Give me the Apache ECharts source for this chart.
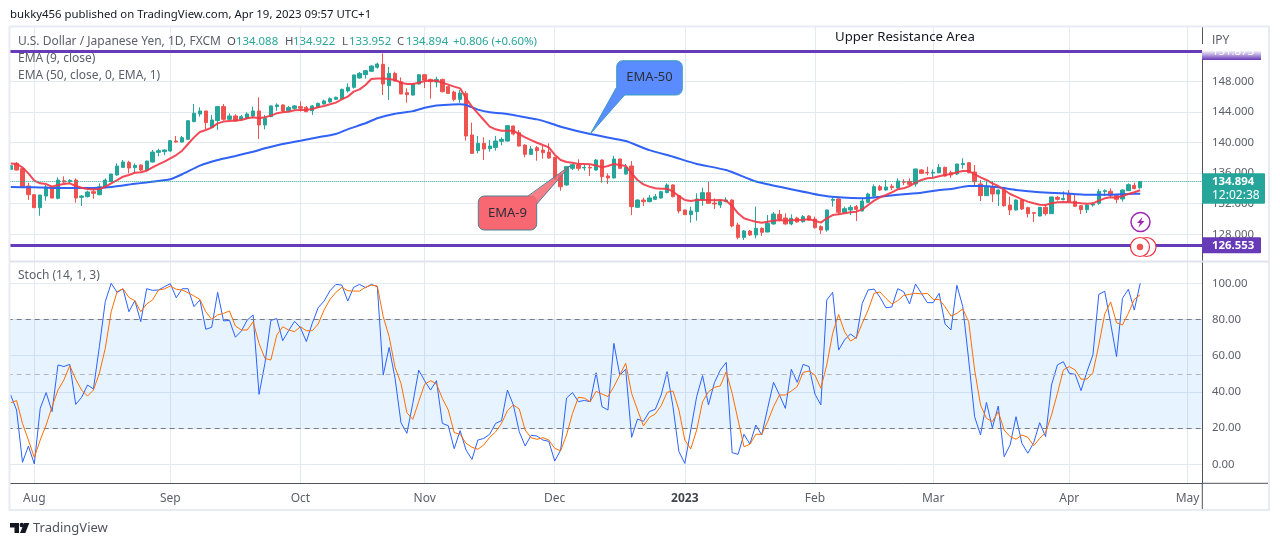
<!DOCTYPE html>
<html><head><meta charset="utf-8">
<style>html,body{margin:0;padding:0;background:#fff}#c{width:1280px;height:546px}</style>
<script src="https://cdn.jsdelivr.net/npm/echarts@6/dist/echarts.min.js"></script>
</head><body><div id="c"></div>
<script>
const FONT='"Noto Sans",sans-serif';
const monthTicks={4:'Aug',27:'Sep',49:'Oct',70:'Nov',92:'Dec',114:'2023',136:'Feb',156:'Mar',179:'Apr',199:'May'};
const priceTicks=[128,132,136,140,144,148];
const resistance=151.873, support=126.553, lastPrice=134.894;
const opens=[136.49,137.27,136.58,134.31,133.18,131.48,133.0,134.14,132.70,135.0,
134.88,135.09,132.83,132.92,133.57,133.18,134.14,134.88,135.75,136.75,
137.40,136.71,137.06,136.40,137.45,138.71,138.80,138.89,140.19,140.06,
140.42,142.73,143.73,144.12,141.99,142.86,144.69,143.03,143.47,143.03,
143.16,143.47,144.12,142.29,143.38,144.69,144.91,144.16,144.47,144.69,
144.60,144.16,144.60,145.04,145.30,145.65,145.73,146.74,147.21,148.43,
148.87,149.31,149.83,150.22,147.43,149.04,147.95,146.51,146.2,147.64,
148.86,148.25,147.9,148.25,147.3,146.6,145.64,146.42,140.98,138.93,
139.89,139.19,139.36,140.15,140.19,142.15,141.28,139.67,138.45,139.32,
139.02,138.75,138.06,135.8,134.45,136.62,137.06,136.67,136.75,136.4,
137.71,135.62,135.36,137.84,135.88,136.93,131.53,132.48,132.27,132.57,
132.75,133.44,134.45,133.05,131.18,130.57,130.96,132.62,133.44,132.09,
131.83,132.27,132.48,129.22,127.6,128.43,127.91,128.78,128.3,129.35,
130.61,130.13,129.35,130.13,129.65,130.39,130.0,129.0,128.56,132.44,
132.62,130.87,131.18,131.61,131.05,132.18,133.0,134.23,133.79,134.27,
134.05,134.88,134.92,134.58,136.41,136.1,136.01,136.06,136.75,136.06,
135.88,137.1,137.36,136.14,134.58,133.05,134.23,133.27,133.79,131.83,
131.18,132.48,131.48,130.83,130.39,131.53,130.7,132.83,132.53,133.36,
132.31,131.74,131.22,131.83,132.05,133.57,133.62,133.09,132.62,133.7,
134.4,134.088];
const closes=[136.97,136.40,134.22,133.18,131.48,133.13,134.18,132.74,135.09,134.83,
135.05,132.74,133.0,133.53,133.35,134.22,135.09,135.88,136.92,137.45,
136.66,137.01,136.40,137.58,138.75,138.93,139.02,140.24,140.06,140.63,
142.85,143.82,144.12,142.60,142.94,144.69,143.03,143.47,142.81,143.38,
143.73,144.12,142.29,143.16,144.78,144.91,144.12,144.56,144.78,144.47,
144.03,144.78,145.12,145.43,145.73,145.91,146.95,147.21,148.83,149.04,
149.39,150.0,150.26,147.65,149.04,148.04,146.34,146.25,147.6,148.86,
148.17,147.95,148.25,146.64,146.42,145.64,146.47,140.85,138.58,139.89,
139.15,139.54,140.19,140.41,142.2,141.11,139.54,138.45,139.15,138.93,
138.67,137.97,135.2,134.22,136.84,137.1,136.62,136.75,136.67,137.71,
135.53,135.36,137.84,136.62,136.75,131.61,132.48,132.27,132.75,132.92,
133.57,134.45,132.92,131.05,130.57,131.05,132.62,133.44,132.05,131.96,
132.27,132.48,129.09,127.6,128.43,127.91,128.78,128.26,129.43,130.65,
129.96,129.35,130.09,129.61,130.31,129.87,128.87,128.56,131.18,132.57,
130.87,131.35,131.53,131.26,132.35,133.27,134.23,133.79,134.18,134.1,
134.97,134.8,134.53,136.54,135.97,136.01,136.1,136.75,135.62,135.75,
137.19,137.28,136.06,134.88,133.05,134.23,133.27,133.79,131.74,131.18,
132.48,131.31,130.7,130.74,131.53,130.7,132.88,132.57,132.7,132.27,
131.66,131.22,131.83,131.96,133.62,133.7,133.09,132.57,133.79,134.49,
133.97,134.894];
const highs=[137.06,137.45,136.66,134.75,133.2,133.15,134.44,134.31,135.44,135.57,
135.22,135.31,133.13,133.70,133.87,134.66,135.31,135.9,137.27,137.71,
137.62,137.27,137.14,137.6,139.02,139.19,139.10,140.32,140.85,140.85,
142.9,145.04,144.60,144.15,143.6,144.78,145.04,143.82,143.69,143.6,
143.95,144.69,145.91,143.6,144.86,145.12,144.99,144.78,144.91,145.38,
144.78,144.91,145.21,145.6,145.91,146.0,147.04,147.74,148.87,149.22,
149.48,150.09,150.44,151.66,149.87,149.26,148.51,147.08,147.73,148.95,
148.95,148.34,148.6,148.34,147.47,146.77,146.86,146.73,142.59,140.85,
140.67,140.32,140.85,140.67,142.28,142.24,141.63,139.76,139.54,139.54,
139.54,139.89,138.1,136.0,136.93,137.19,137.8,137.06,137.06,137.84,
137.8,135.97,138.24,137.89,137.19,137.58,132.57,132.79,133.14,133.27,
133.7,134.66,134.53,133.14,131.2,131.61,133.36,134.1,134.88,132.7,
132.48,132.83,132.57,129.52,128.56,128.56,131.61,128.91,130.52,130.92,
131.18,130.74,130.61,130.31,130.52,130.52,130.31,129.17,131.22,132.83,
132.7,131.61,131.83,131.83,132.83,133.44,134.53,134.45,135.1,134.58,
135.32,135.19,135.32,136.58,136.54,136.84,136.49,137.19,136.84,136.32,
137.23,137.93,137.45,137.06,135.1,134.88,134.97,133.88,133.88,132.92,
132.57,132.7,131.61,130.92,131.57,131.83,132.92,133.0,133.62,133.79,
133.14,131.83,131.92,132.14,133.92,133.88,134.01,133.27,133.88,134.66,
134.75,134.922];
const lows=[136.40,136.35,134.14,132.48,131.45,130.43,132.39,132.70,132.57,134.66,
134.66,132.13,131.70,132.83,132.65,133.09,134.0,134.85,135.66,136.71,
135.97,136.05,136.27,136.31,137.40,138.19,138.36,138.80,139.97,139.97,
140.4,142.64,143.38,141.72,141.9,141.64,142.86,142.86,142.73,142.86,
143.03,143.16,140.46,141.72,143.3,144.16,143.99,144.03,144.16,144.03,
143.95,143.6,144.51,144.95,145.21,145.6,145.65,146.52,147.04,148.35,
148.35,149.22,149.65,146.2,145.56,147.95,146.3,145.2,146.12,147.6,
147.12,145.73,147.2,146.55,146.34,145.38,145.2,140.24,138.5,138.58,
137.71,138.8,138.93,139.63,140.15,140.93,139.45,138.06,138.36,137.62,
137.88,137.88,135.1,133.7,134.36,136.4,136.32,136.32,135.62,136.32,
134.75,134.58,135.32,136.54,135.8,130.52,131.44,131.7,132.18,132.48,
132.66,133.36,132.83,130.74,130.52,129.52,129.78,131.74,131.96,131.31,
131.44,132.18,128.91,127.34,127.26,127.78,127.47,127.78,128.26,129.26,
129.7,129.26,129.17,129.52,129.52,129.78,128.74,128.04,128.34,131.61,
130.52,130.74,130.52,129.74,131.0,132.09,132.7,133.66,133.7,133.79,
133.97,134.45,134.45,134.23,135.88,135.71,135.32,135.97,135.53,135.36,
135.75,136.58,135.97,134.23,132.35,133.0,132.22,131.7,131.61,130.52,
131.09,131.18,130.22,129.61,130.35,130.44,130.65,132.4,132.44,132.14,
131.57,130.65,130.79,131.61,131.87,133.0,132.83,132.09,132.27,133.66,
133.88,133.952];
const ema9=[137.27,137.19,136.75,135.97,135.01,134.66,134.57,134.22,134.44,134.57,134.66,134.31,134.09,133.92,133.87,133.92,134.22,134.66,135.09,135.53,135.75,136.05,136.1,136.31,136.75,137.14,137.49,137.93,138.36,138.93,139.8,140.67,141.37,
141.64,141.94,142.5,142.73,142.81,142.86,142.94,143.16,143.29,143.16,143.29,143.51,143.81,143.95,144.03,144.21,144.25,144.25,144.38,144.6,144.77,144.99,145.21,145.65,145.99,146.65,
146.95,147.51,148.3,148.38,148.38,148.3,148.17,147.82,147.64,147.64,147.82,148.04,148.08,148.08,147.82,147.56,147.3,147.08,145.77,144.68,143.81,142.94,142.07,141.72,141.54,141.54,141.54,141.11,140.67,140.32,139.97,139.67,139.36,138.4,137.71,
137.45,137.36,137.19,137.19,137.15,137.0,136.75,136.93,137.19,137.06,136.93,135.97,135.1,134.53,134.23,134.01,133.97,133.97,133.57,133.0,132.48,132.35,132.48,132.48,132.48,132.44,132.48,132.4,131.7,130.74,130.1,129.85,
129.65,129.52,129.65,129.78,129.87,129.78,129.83,129.87,129.91,129.96,129.78,129.52,130.09,130.52,130.61,130.74,130.87,130.96,131.26,131.83,132.4,132.83,133.14,133.49,133.88,134.01,134.31,134.75,135.1,135.32,
135.4,135.6,135.75,135.88,136.1,136.27,136.27,135.88,135.45,135.1,134.66,134.31,133.79,133.27,132.92,132.57,132.27,132.05,131.87,131.83,132.05,132.18,132.22,132.18,132.14,132.05,132.0,132.05,132.4,132.7,132.83,132.79,133.0,133.27,133.49,133.75];
const ema50Idx=[0,4,8,14,17,21,23,27,29,32,35,38,41,43,46,49,52,55,57,60,62,65,68,70,72,74,76,77,79,81,83,85,87,89,91,93,98,104,108,112,116,121,126,131,137,140,144,147,150,154,157,159,162,164,167,170,174,178,182,185,189,191];
const ema50Val=[134.18,134.14,134.05,134.05,134.18,134.6,134.78,135.2,135.85,136.98,137.72,138.24,138.8,139.24,139.81,140.24,140.68,141.11,141.72,142.51,143.16,143.75,144.1,144.55,144.85,144.94,144.99,144.9,144.3,143.94,143.81,143.59,143.29,143.02,142.59,142.07,141.11,140.19,139.0,138.14,137.2,136.4,134.9,134.05,133.1,132.83,132.7,132.92,133.18,133.44,133.79,133.92,134.31,134.31,134.14,133.79,133.49,133.36,133.18,133.18,133.27,133.31];
const stochK=[38.3,30,1.1,10.1,0.2,30.9,39.6,29.1,54.9,54,
55.2,33.1,37,43.8,41.6,65,89.9,100,95,96.9,
84.3,90.4,78.8,97,96.1,96.3,98.1,99.8,92,97,
97,87.1,90.8,74.6,75.7,95,79.2,79.5,70.2,73.6,
79.7,82.5,38.6,55.8,79.5,80.5,68.3,73.8,79,75.5,
67.8,77.9,86.5,90.2,95.9,99.4,99,90.2,97.8,99.4,
97.6,99.4,98.1,49.3,64.6,47.5,23,17.1,33.7,52,
46.2,41,46.2,22.6,21.3,8.6,18.6,7.9,2.7,13.4,
14.3,16.6,22.6,24.1,41,32.8,18,10.1,16,15.6,
13.4,12.7,1.8,7.9,36.6,39.6,34.6,35.3,34.6,50.6,
31.8,30,66.8,49.3,52.5,14.9,25,23.7,29.1,30.4,
38.3,51.2,31.8,7,0.5,19,37.4,49,32.8,45.1,
52.1,56.3,6.4,5.5,16.6,11.2,21.7,16.2,30.9,45.3,
38.3,30.9,52.5,45.3,55.2,54,38.8,32.8,90.8,95,
63.1,68.7,72,69.6,88.9,96.3,96.8,92.3,86.5,86.9,
97,95.4,88.6,99.6,94.5,89.3,89.3,94.5,77.5,74.2,
98.9,87.1,57.6,26.3,16.2,34.2,20.2,32.2,4.2,10.7,
26.3,11.6,6.1,12,23,15.3,43.8,54.9,56.7,50.3,
49.7,40.7,51.2,60.4,93.9,95.6,77.9,59.5,91.7,96.7,
85.2,100];
const stochD=[34,35.2,22.6,13.4,3.8,13.4,21.7,31.8,41,46.6,
54.5,47,41,37.7,41,50.3,64.1,84.3,95.4,97,
92.2,90.4,84.3,88.6,90.8,96.3,96.9,98.5,96.7,96.3,
94.8,93,91.1,84.3,80.1,82.5,83.4,84.7,76.4,74.2,
74.2,78.8,66.8,58.5,57.6,71.4,76,74.2,73.3,76,
73.8,73.8,77.5,85.3,91.1,95,97.8,95.9,95.7,95.7,
97.8,99,98.5,81.6,70.5,53.6,44.7,28.5,24.8,34.6,
44.2,46.2,44.4,36.4,30,17.5,16.6,11.6,9.4,8.3,
10.7,14.9,17.9,22.6,29.6,32.8,30.6,18.9,14.7,13.8,
14.7,13.4,8.8,7.5,16.2,28.1,37,36.6,34.6,40.3,
38.8,37.4,42.9,49.3,55.8,39.2,30,21.2,25.9,27.8,
32.4,39.8,40.5,30,13.4,8.5,18.9,34.6,40.1,42.5,
43.3,51.2,39.2,24.5,9.7,11,16.6,16.6,23.6,31.8,
38.3,38.3,40.5,42.9,50.8,51.5,49.3,42,54.9,72.4,
82.8,73.3,68.1,70,77.9,85.3,94.5,95.2,91.7,88.6,
90.4,93.3,93.9,94.5,94.1,94.5,91.1,91.1,87.1,81.9,
83.4,85.8,78.8,52.1,32.8,25.4,23.6,29.1,18.9,15.3,
13.8,16.2,14.9,10.3,14.3,17.5,27.2,39.2,52.1,54,
52.1,47,47.1,50.6,65.9,83,89.7,78.2,77,83.4,
91.1,93.7];

const SLOTS=202;
const xCats=Array.from({length:SLOTS},(_,i)=>String(i));
const isMonth=i=>monthTicks[i]!==undefined;
const candleData=opens.map((o,i)=>[o,closes[i],lows[i],highs[i]]);
const ema50Data=xCats.map(()=>null);
ema50Idx.forEach((ix,k)=>{ema50Data[ix]=ema50Val[k];});

const GREY='#5d606b',DARK='#131722',GRN='#26a69a',RED='#ef5350',PUR='#673ab7',GRID='#e3e9f1';
const L=7.7,W=1194.6,NUM='11.4px '+FONT;
const hiddenX=g=>({type:'category',gridIndex:g,data:xCats,boundaryGap:true,show:false});

const chart=echarts.init(document.getElementById('c'),null,{renderer:'canvas'});
chart.setOption({
 animation:false,
 textStyle:{fontFamily:FONT},
 grid:[
  {left:L,width:W,top:20.1,height:244.8},
  {left:L,width:W,top:247.1,height:253.4},
  {left:L,width:W,top:27,height:456.3}
 ],
 xAxis:[hiddenX(0),hiddenX(1),{
  type:'category',gridIndex:2,data:xCats,boundaryGap:true,
  axisLine:{show:true,lineStyle:{color:'#50535e',width:1}},
  axisTick:{show:false},
  axisLabel:{interval:i=>isMonth(i),margin:9,color:GREY,fontSize:12,fontFamily:FONT,
    formatter:(v,i)=>monthTicks[+v]==='2023'?'{b|2023}':(monthTicks[+v]||''),
    rich:{b:{fontWeight:'bold',color:'#42454f',fontSize:12,fontFamily:FONT}}},
  splitLine:{show:true,interval:i=>isMonth(i),alignWithLabel:true,lineStyle:{color:GRID,width:1}}
 }],
 yAxis:[
  {type:'value',gridIndex:0,position:'right',min:124,max:156,interval:4,scale:true,
   axisLine:{show:false},axisTick:{show:false},
   axisLabel:{showMinLabel:false,showMaxLabel:false,margin:9.6,color:GREY,fontSize:11.4,fontFamily:FONT,
     formatter:v=>priceTicks.includes(v)?v.toFixed(3):''},
   splitLine:{show:true,showMinLine:false,showMaxLine:false,lineStyle:{color:GRID,width:1}}},
  {type:'value',gridIndex:1,position:'right',min:-20,max:120,interval:20,
   axisLine:{show:false},axisTick:{show:false},
   axisLabel:{showMinLabel:false,showMaxLabel:false,margin:9.6,color:GREY,fontSize:11.4,fontFamily:FONT,
     formatter:v=>v.toFixed(2)},
   splitLine:{show:true,showMinLine:false,showMaxLine:false,lineStyle:{color:GRID,width:1}}},
  {type:'value',gridIndex:2,position:'right',min:0,max:1,
   axisLine:{show:true,lineStyle:{color:'#50535e',width:1}},axisTick:{show:false},axisLabel:{show:false},splitLine:{show:false}}
 ],
 series:[
  {type:'line',xAxisIndex:2,yAxisIndex:2,data:[],silent:true},
  {name:'USDJPY',type:'candlestick',xAxisIndex:0,yAxisIndex:0,data:candleData,barWidth:3.8,clip:false,
   itemStyle:{color:GRN,color0:RED,borderColor:GRN,borderColor0:RED,borderWidth:1},
   markLine:{silent:true,symbol:'none',animation:false,label:{show:false},data:[
     {yAxis:lastPrice,lineStyle:{color:GRN,type:'dotted',width:1}},
     {yAxis:resistance,lineStyle:{color:PUR,type:'solid',width:3}},
     {yAxis:support,lineStyle:{color:PUR,type:'solid',width:3}}
   ]}},
  {name:'EMA 50',type:'line',xAxisIndex:0,yAxisIndex:0,data:ema50Data,connectNulls:true,smooth:0.15,showSymbol:false,
   lineStyle:{color:'#2f62f5',width:2},z:3},
  {name:'EMA 9',type:'line',xAxisIndex:0,yAxisIndex:0,data:ema9,showSymbol:false,
   lineStyle:{color:'#f23645',width:2,opacity:0.9},z:4},
  {name:'%K',type:'line',xAxisIndex:1,yAxisIndex:1,data:stochK,showSymbol:false,
   lineStyle:{color:'#2962ff',width:1},z:4,
   markArea:{silent:true,itemStyle:{color:'rgba(33,150,243,0.11)'},data:[[{yAxis:20},{yAxis:80}]]},
   markLine:{silent:true,symbol:'none',animation:false,label:{show:false},data:[
     {yAxis:80,lineStyle:{color:'#787b86',type:[5,4],width:1}},
     {yAxis:50,lineStyle:{color:'#b2b5be',type:[5,4],width:1}},
     {yAxis:20,lineStyle:{color:'#787b86',type:[5,4],width:1}}
   ]}},
  {name:'%D',type:'line',xAxisIndex:1,yAxisIndex:1,data:stochD,showSymbol:false,
   lineStyle:{color:'#ff6d00',width:1},z:5}
 ]
});

const py=v=>chart.convertToPixel({yAxisIndex:0},v);
const px=i=>chart.convertToPixel({xAxisIndex:0},i);
const txt=(x,y,t,o={})=>({type:'text',z:120,silent:true,style:Object.assign({x,y,text:t,fill:GREY,font:'12px '+FONT,textAlign:'left',textVerticalAlign:'middle'},o)});
const rect=(x,y,w,h,fill,o={})=>({type:'rect',z:o.z||100,silent:true,shape:{x,y,width:w,height:h,r:o.r||0},style:{fill,stroke:o.stroke||null,lineWidth:o.lw||0}});
const line=(x1,y1,x2,y2,c,w=1,z=110)=>({type:'line',z,silent:true,shape:{x1,y1,x2,y2},style:{stroke:c,lineWidth:w}});
const poly=(pts,fill,z=101)=>({type:'polygon',z,silent:true,shape:{points:pts},style:{fill}});
const pline=(pts,c,w=1,z=102)=>({type:'polyline',z,silent:true,shape:{points:pts},style:{stroke:c,lineWidth:w,fill:null}});
const circ=(cx,cy,r,fill,stroke,lw,z=105)=>({type:'circle',z,silent:true,shape:{cx,cy,r},style:{fill,stroke,lineWidth:lw}});

const yRes=py(resistance),ySup=py(support);
const ema50Tip=[px(98),py(141.11)], ema9Tip=[px(95)-2,py(137.0)];
const BLUEFILL='#5b8cff',REDFILL='#f76872',BORD='#3e9fc0',BORD2='#4f8090';

const g=[
 rect(0,0,9.5,546,'#fff',{z:90}),
 rect(9.5,26.5,1259.5,483.5,null,{stroke:'#e8ebf2',lw:2,z:95}),
 rect(10,260.5,1259,2,'#e0e3eb',{z:95}),
 line(1202.3,483,1202.3,509,'#50535e'),
 line(1202,483.3,1268,483.3,'#50535e'),
 txt(10,15,'bukky456 published on TradingView.com, Apr 19, 2023 09:57 UTC+1',{fill:DARK,font:'11.4px '+FONT}),
 txt(18,41.5,'U.S. Dollar / Japanese Yen, 1D, FXCM'),
 txt(227,41.5,'O',{fill:'#50535e',font:NUM}),txt(236,41.5,'134.088',{fill:GRN,font:NUM}),
 txt(285,41.5,'H',{fill:'#50535e',font:NUM}),txt(293,41.5,'134.922',{fill:GRN,font:NUM}),
 txt(342,41.5,'L',{fill:'#50535e',font:NUM}),txt(349,41.5,'133.952',{fill:GRN,font:NUM}),
 txt(397,41.5,'C',{fill:'#50535e',font:NUM}),txt(406,41.5,'134.894',{fill:GRN,font:NUM}),
 txt(453,41.5,'+0.806 (+0.60%)',{fill:GRN,font:NUM}),
 txt(18,59,'EMA (9, close)'),
 txt(18,76,'EMA (50, close, 0, EMA, 1)'),
 txt(18,276,'Stoch (14, 1, 3)'),
 txt(835,37,'Upper Resistance Area',{fill:DARK,font:'13.2px '+FONT}),
 txt(1212,41,'JPY'),
 rect(1202,44,59,16,PUR,{z:112}),
 txt(1212,yRes,resistance.toFixed(3),{fill:'#fff',font:NUM,z:113}),
 {type:'rect',z:125,silent:true,shape:{x:1202,y:44,width:59,height:16},style:{fill:new echarts.graphic.LinearGradient(0,0,0,1,[{offset:0,color:'#fff'},{offset:0.4,color:'#fff'},{offset:1,color:'rgba(255,255,255,0)'}])}},
 rect(1202,ySup-8,59,16,PUR,{z:112,r:1}),
 txt(1212,ySup,support.toFixed(3),{fill:'#fff',font:'bold 11.4px '+FONT}),
 rect(1202,173.3,63,30.5,GRN,{z:112,r:1}),
 txt(1212,181.5,lastPrice.toFixed(3),{fill:'#fff',font:'bold 11.4px '+FONT}),
 txt(1212,195.5,'12:02:38',{fill:'#fff'}),
 rect(616.7,60.7,65.6,34.3,BLUEFILL,{r:6,stroke:BORD,lw:1,z:100}),
 poly([[615.5,88],ema50Tip,[624.5,95.5]],BLUEFILL),
 pline([[616.7,88],ema50Tip,[624.5,95]],BORD),
 txt(649.5,77.5,'EMA-50',{textAlign:'center',fill:'#2a2e39',font:'13px '+FONT}),
 rect(478.3,196,58.4,34,REDFILL,{r:6,stroke:BORD2,lw:1,z:100}),
 poly([[528,196.5],ema9Tip,[537,204]],'rgba(247,104,114,0.85)'),
 pline([[528,196],ema9Tip,[536.7,204]],BORD2),
 txt(507.5,213,'EMA-9',{textAlign:'center',fill:'#2a2e39',font:'13px '+FONT}),
 circ(1140.5,222,9.5,'#fff','#9c27b0',1.5),
 poly([[1142.5,217],[1137,223],[1140,223],[1138.5,227.5],[1144.5,221],[1141.2,221]],'#9c27b0',106),
 circ(1146.5,247,9.5,'#fff','#f23645',1.2,104),
 circ(1140,247,9.5,'#fff','#f23645',1.2,105),
 circ(1140,247,3.2,'#ef5350',null,0,106),
 poly([[10,523],[19,523],[19,533],[14.5,533],[14.5,527.5],[10,527.5]],'#131722',120),
 circ(21.8,525,2.2,'#131722',null,0,120),
 poly([[24.2,523],[29.3,523],[25.3,533],[20,533]],'#131722',120),
 txt(33,528.5,'TradingView',{fill:'#50535e',font:'13px '+FONT})
];
chart.setOption({graphic:{elements:g}});
</script></body></html>
